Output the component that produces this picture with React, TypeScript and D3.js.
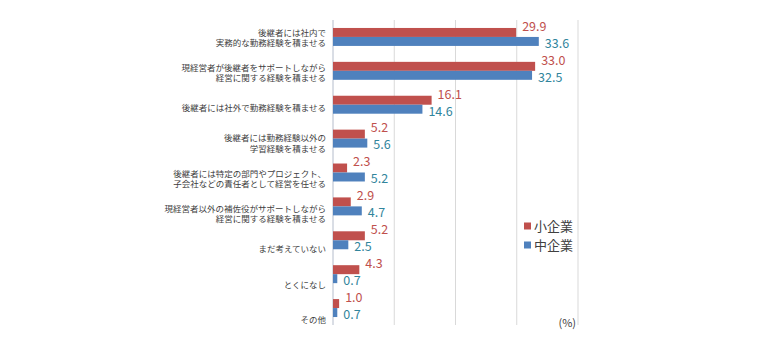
import React from "react";
import * as d3 from "d3";

const categories: string[][] = [
  ["後継者には社内で", "実務的な勤務経験を積ませる"],
  ["現経営者が後継者をサポートしながら", "経営に関する経験を積ませる"],
  ["後継者には社外で勤務経験を積ませる"],
  ["後継者には勤務経験以外の", "学習経験を積ませる"],
  ["後継者には特定の部門やプロジェクト、", "子会社などの責任者として経営を任せる"],
  ["現経営者以外の補佐役がサポートしながら", "経営に関する経験を積ませる"],
  ["まだ考えていない"],
  ["とくになし"],
  ["その他"],
];
const smallCo = [29.9, 33.0, 16.1, 5.2, 2.3, 2.9, 5.2, 4.3, 1.0];
const mediumCo = [33.6, 32.5, 14.6, 5.6, 5.2, 4.7, 2.5, 0.7, 0.7];
const seriesNames = ["小企業", "中企業"];
const gridTicks = [0, 10, 20, 30, 40];

const W = 780;
const H = 350;
const m = { top: 20, left: 333, right: 202, bottom: 25 };
const barColors = ["#c0504d", "#4f81bd"];
const labelColors = ["#c0504d", "#31859c"];
const font = "'Noto Sans CJK JP', 'Noto Sans', sans-serif";

const App: React.FC = () => {
  const x = d3.scaleLinear().domain([0, 40]).range([m.left, W - m.right]);
  const y = d3
    .scaleBand<number>()
    .domain(d3.range(categories.length))
    .range([m.top, H - m.bottom])
    .paddingInner(0.47)
    .paddingOuter(0.235);
  const sub = d3.scaleBand<number>().domain([0, 1]).range([0, y.bandwidth()]);
  // the category text sits on a slightly wider pitch than the bars
  const labelY = d3.scalePoint<number>().domain(d3.range(categories.length)).range([38, 320]);
  const series = [smallCo, mediumCo];

  return (
    <svg width={W} height={H} style={{ position: "absolute", left: 0, top: 0, background: "#fff" }}>
      {/* gridlines */}
      {gridTicks.slice(1).map((t) => (
        <line key={t} x1={x(t)} x2={x(t)} y1={m.top} y2={H - m.bottom} stroke="#d9d9d9" strokeWidth={1} />
      ))}
      <line x1={x(0)} x2={x(0)} y1={m.top} y2={H - m.bottom} stroke="#b4bccb" strokeWidth={1} />

      {/* bars */}
      {series.map((vals, s) =>
        vals.map((v, i) => (
          <rect
            key={`${s}-${i}`}
            x={x(0)}
            y={y(i)! + sub(s)!}
            width={x(v) - x(0)}
            height={sub.bandwidth()}
            fill={barColors[s]}
          />
        ))
      )}

      {/* value labels */}
      {series.map((vals, s) =>
        vals.map((v, i) => (
          <text
            key={`l${s}-${i}`}
            x={x(v) + 6}
            y={y(i)! + sub(s)! + sub.bandwidth() / 2 + (s === 0 ? -6 : 2)}
            dy="0.35em"
            fontSize={12.5}
            fontFamily={font}
            fill={labelColors[s]}
          >
            {v.toFixed(1)}
          </text>
        ))
      )}

      {/* category labels */}
      {categories.map((lines, i) => {
        const cy = labelY(i)!;
        const lh = 10.5;
        return (
          <text key={`c${i}`} textAnchor="end" fontSize={8.5} fontFamily={font} fill="#404040">
            {lines.map((ln, k) => (
              <tspan key={k} x={m.left - 7} y={cy + (k - (lines.length - 1) / 2) * lh} dy="0.35em">
                {ln}
              </tspan>
            ))}
          </text>
        );
      })}

      {/* legend */}
      {seriesNames.map((n, s) => (
        <g key={n} transform={`translate(524, ${226 + s * 19})`}>
          <rect x={0} y={-3.5} width={7} height={7} fill={barColors[s]} />
          <text x={10} y={0} dy="0.35em" fontSize={13} fontFamily={font} fill="#404040">
            {n}
          </text>
        </g>
      ))}

      <text x={576} y={323} dy="0.35em" textAnchor="end" fontSize={11} fontFamily={font} fill="#404040">
        (%)
      </text>
    </svg>
  );
};

export default App;
